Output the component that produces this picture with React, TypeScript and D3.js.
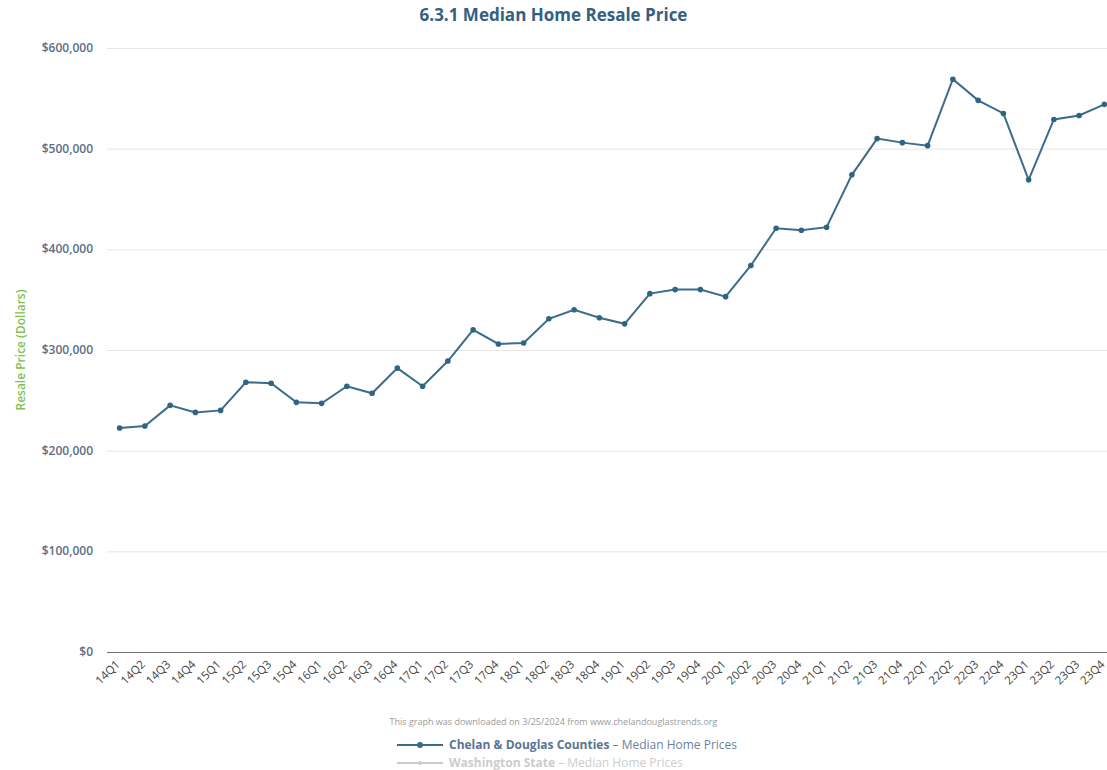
import React, { useEffect, useRef } from 'react';
import * as d3 from 'd3';

const quarters = [
  '14Q1', '14Q2', '14Q3', '14Q4', '15Q1', '15Q2', '15Q3', '15Q4',
  '16Q1', '16Q2', '16Q3', '16Q4', '17Q1', '17Q2', '17Q3', '17Q4',
  '18Q1', '18Q2', '18Q3', '18Q4', '19Q1', '19Q2', '19Q3', '19Q4',
  '20Q1', '20Q2', '20Q3', '20Q4', '21Q1', '21Q2', '21Q3', '21Q4',
  '22Q1', '22Q2', '22Q3', '22Q4', '23Q1', '23Q2', '23Q3', '23Q4',
];

const chelanDouglas = [
  222500, 224500, 245000, 238000, 240000, 268000, 267000, 248000,
  247000, 264000, 257000, 282000, 264000, 289000, 320000, 306000,
  307000, 331000, 340000, 332000, 326000, 356000, 360000, 360000,
  353000, 384000, 421000, 419000, 422000, 474000, 510000, 506000,
  503000, 569000, 548000, 535000, 469000, 529000, 533000, 544000,
];

const yTicks = [0, 100000, 200000, 300000, 400000, 500000, 600000];

const W = 1107;
const H = 770;
const font = '"Open Sans", "DejaVu Sans", sans-serif';

const App = () => {
  const ref = useRef<SVGSVGElement>(null);

  useEffect(() => {
    const svg = d3.select(ref.current);
    svg.selectAll('*').remove();

    const x = d3.scalePoint<string>()
      .domain(quarters)
      .range([107, 1117])
      .padding(0.5);

    const y = d3.scaleLinear()
      .domain([0, 600000])
      .range([652, 48]);

    // title
    svg.append('text')
      .attr('x', W / 2)
      .attr('y', 21)
      .attr('text-anchor', 'middle')
      .attr('font-size', 17)
      .attr('font-weight', 'bold')
      .attr('fill', '#335f84')
      .text('6.3.1 Median Home Resale Price');

    // gridlines
    svg.append('g')
      .selectAll('line')
      .data(yTicks.filter(d => d > 0))
      .enter()
      .append('line')
      .attr('x1', 107)
      .attr('x2', W)
      .attr('y1', d => y(d) + 0.5)
      .attr('y2', d => y(d) + 0.5)
      .attr('stroke', '#e6e6e6');

    // y labels
    svg.append('g')
      .selectAll('text')
      .data(yTicks)
      .enter()
      .append('text')
      .attr('x', 93)
      .attr('y', d => y(d) + 4)
      .attr('text-anchor', 'end')
      .attr('font-size', 12)
      .attr('font-weight', 600)
      .attr('fill', '#5d6d86')
      .text(d => '$' + d3.format(',')(d));

    // y title
    svg.append('text')
      .attr('transform', 'translate(25, 350) rotate(-90)')
      .attr('text-anchor', 'middle')
      .attr('font-size', 12)
      .attr('font-weight', 600)
      .attr('fill', '#82c151')
      .text('Resale Price (Dollars)');

    // x axis line
    svg.append('line')
      .attr('x1', 107)
      .attr('x2', W)
      .attr('y1', 652.5)
      .attr('y2', 652.5)
      .attr('stroke', '#6e6e6e')
      .attr('stroke-width', 1);

    // x labels
    svg.append('g')
      .selectAll('text')
      .data(quarters)
      .enter()
      .append('text')
      .attr('transform', d => `translate(${x(d)! + 1}, 665) rotate(-45)`)
      .attr('text-anchor', 'end')
      .attr('font-size', 11.5)
      .attr('fill', '#444')
      .text(d => d);

    // line
    const line = d3.line<number>()
      .x((d, i) => x(quarters[i])!)
      .y(d => y(d));

    svg.append('path')
      .datum(chelanDouglas)
      .attr('d', line)
      .attr('fill', 'none')
      .attr('stroke', '#3b6c8b')
      .attr('stroke-width', 2);

    svg.append('g')
      .selectAll('circle')
      .data(chelanDouglas)
      .enter()
      .append('circle')
      .attr('cx', (d, i) => x(quarters[i])!)
      .attr('cy', d => y(d))
      .attr('r', 2.8)
      .attr('fill', '#2f6584');

    // footer
    svg.append('text')
      .attr('x', W / 2)
      .attr('y', 725)
      .attr('text-anchor', 'middle')
      .attr('font-size', 9)
      .attr('fill', '#9a9a9a')
      .text('This graph was downloaded on 3/25/2024 from www.chelandouglastrends.org');

    // legend
    const legend = [
      { name: 'Chelan & Douglas Counties', color: '#3b6c8b', text: '#5b7394', sub: '#6d82a0', y: 745 },
      { name: 'Washington State', color: '#cccccc', text: '#cccccc', sub: '#cccccc', y: 763 },
    ];
    legend.forEach(l => {
      svg.append('line')
        .attr('x1', 397).attr('x2', 443)
        .attr('y1', l.y).attr('y2', l.y)
        .attr('stroke', l.color)
        .attr('stroke-width', 2);
      svg.append('circle')
        .attr('cx', 420).attr('cy', l.y)
        .attr('r', l.y === 745 ? 3 : 2)
        .attr('fill', l.color);
      const t = svg.append('text')
        .attr('x', 449)
        .attr('y', l.y + 4)
        .attr('font-size', 12);
      t.append('tspan')
        .attr('font-weight', 'bold')
        .attr('fill', l.text)
        .text(l.name);
      t.append('tspan')
        .attr('fill', l.sub)
        .text(' – Median Home Prices');
    });
  }, []);

  return (
    <svg
      ref={ref}
      width={W}
      height={H}
      style={{ position: 'absolute', left: 0, top: 0, fontFamily: font, background: '#fff' }}
    />
  );
};

export default App;
